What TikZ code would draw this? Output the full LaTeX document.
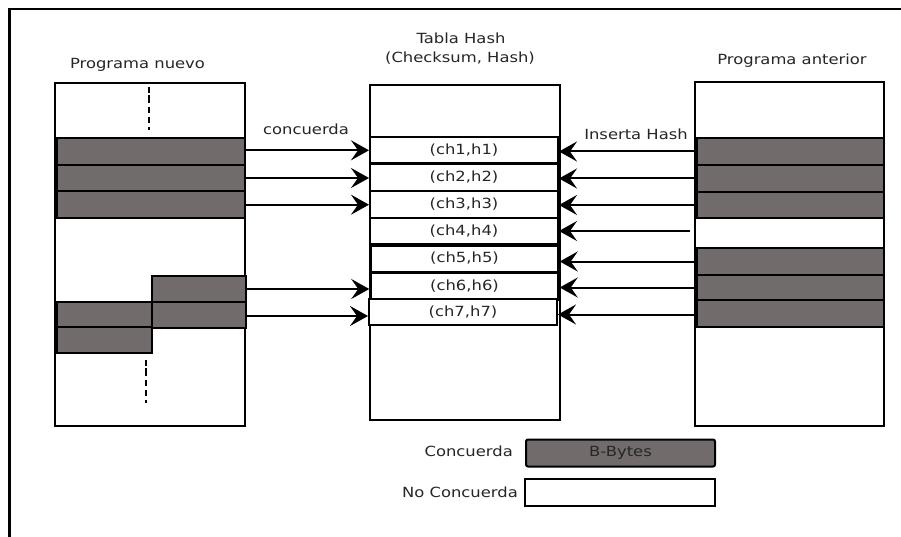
\documentclass[tikz,border=0pt]{standalone}
\usepackage{fontspec}
\setmainfont{DejaVu Sans}[FakeStretch=1.17]
\usetikzlibrary{arrows.meta}
\definecolor{blockgray}{RGB}{113,108,107}
\begin{document}
\begin{tikzpicture}[x=1pt,y=-1pt,
  font=\fontsize{14}{17}\selectfont,
  box/.style={draw, line width=2pt, fill=white, inner sep=0pt},
  gblk/.style={draw, line width=2pt, fill=blockgray, inner sep=0pt},
  hrow/.style={draw, line width=2pt, fill=white, inner sep=0pt, minimum width=188pt, minimum height=26.5pt, text=black!85},
  lbl/.style={inner sep=0pt, anchor=base, text=black!85},
  arr/.style={line width=2pt, -{Stealth[length=18pt,width=20pt,inset=7pt]}},
  dots/.style={line width=2.5pt, dash pattern=on 6pt off 4pt}
  ]
\useasboundingbox (0,0) rectangle (901,537);
\fill[white] (0,0) rectangle (901,537);
% frame
\draw[line width=2.5pt] (9.5,537) -- (9.5,9) -- (901,9);

% titles
\node[lbl] (tnuevo) at (137.5,69) {Programa nuevo};
\node[lbl] (ttabla) at (461,43.5) {Tabla Hash};
\node[lbl] (tcheck) at (460,63) {(Checksum, Hash)};
\node[lbl] (tanter) at (792,65) {Programa anterior};
\node[lbl] (tconc) at (306,135) {concuerda};
\node[lbl] (tins) at (636,140) {Inserta Hash};

% left box
\node[box, minimum width=190pt, minimum height=343pt] (lbox) at (150,254.5) {};
\node[gblk, minimum width=188pt, minimum height=26.7pt] (lr1) at (151,151.3) {};
\node[gblk, minimum width=188pt, minimum height=26.7pt] (lr2) at (151,178) {};
\node[gblk, minimum width=188pt, minimum height=26.7pt] (lr3) at (151,204.7) {};
\node[gblk, minimum width=94pt, minimum height=26pt] (lb1) at (199,289) {};
\node[gblk, minimum width=94pt, minimum height=26pt] (lb2) at (199,315) {};
\node[gblk, minimum width=95pt, minimum height=25.5pt] (lc1) at (104.5,314.5) {};
\node[gblk, minimum width=95pt, minimum height=25.5pt] (lc2) at (104.5,340) {};
\coordinate (d1a) at (149,95);
\coordinate (d1b) at (149,130);
\coordinate (d2a) at (146,368);
\coordinate (d2b) at (146,403);
\draw[line width=1.5pt] (d1a) -- ++(0,3);
\draw[dots] ([yshift=8pt]d1a) -- (d1b);
\draw[line width=1.5pt] (d2a) -- ++(0,3);
\draw[dots] ([yshift=8pt]d2a) -- (d2b);

% hash table
\node[box, minimum width=190pt, minimum height=335pt] (tbox) at (465,252.5) {};
\node[hrow] (t1) at (464,150) {(ch1,h1)};
\node[hrow] (t2) at (464,177.5) {(ch2,h2)};
\node[hrow] (t3) at (464,204.5) {(ch3,h3)};
\node[hrow] (t4) at (464,231) {(ch4,h4)};
\node[hrow, line width=2.5pt] (t5) at (464.5,258.5) {(ch5,h5)};
\node[hrow, line width=2.5pt] (t6) at (464.5,286) {(ch6,h6)};
\node[hrow] (t7) at (463,312) {(ch7,h7)};

% right box
\node[box, minimum width=189pt, minimum height=344pt] (rbox) at (789.5,254) {};
\node[gblk, minimum width=187pt, minimum height=27pt] (r1) at (790.5,151.5) {};
\node[gblk, minimum width=187pt, minimum height=27pt] (r2) at (790.5,178.5) {};
\node[gblk, minimum width=187pt, minimum height=26pt] (r3) at (790.5,205) {};
\coordinate (r4) at (690,231);
\node[gblk, minimum width=187pt, minimum height=27pt] (r5) at (790.5,261.5) {};
\node[gblk, minimum width=187pt, minimum height=25pt] (r6) at (790.5,287.5) {};
\node[gblk, minimum width=187pt, minimum height=27pt] (r7) at (790.5,313.5) {};

% arrows left -> table
\draw[arr] ([yshift=1pt]lr1.east) -- ([yshift=1pt]lr1.east -| t1.west);
\draw[arr] (lr2.east) -- (lr2.east -| t2.west);
\draw[arr] (lr3.east) -- (lr3.east -| t3.west);
\draw[arr] (lb1.east) -- (lb1.east -| t6.west);
\draw[arr] ([yshift=-1pt]lb2.east) -- ([yshift=-1pt]lb2.east -| t7.west);

% arrows right -> table
\draw[arr] (r1.west) -- (r1.west -| t1.east);
\draw[arr] (r2.west) -- (r2.west -| t2.east);
\draw[arr] (r3.west) -- (r3.west -| t3.east);
\draw[arr] (r4) -- (r4 -| t4.east);
\draw[arr] (r5.west) -- (r5.west -| t5.east);
\draw[arr] (r6.west) -- (r6.west -| t6.east);
\draw[arr] ([yshift=-1pt]r7.west) -- ([yshift=-1pt]r7.west -| t7.east);

% legend
\node[gblk, minimum width=189pt, minimum height=27pt, rounded corners=2pt, text=black!85] (lg1) at (620.5,453) {B-Bytes};
\node[box, minimum width=190pt, minimum height=27pt] (lg2) at (620,492.5) {};
\node[lbl, anchor=base east] (lt1) at (513,456.5) {Concuerda};
\node[lbl, anchor=base east] (lt2) at (518,497) {No Concuerda};
\end{tikzpicture}
\end{document}
